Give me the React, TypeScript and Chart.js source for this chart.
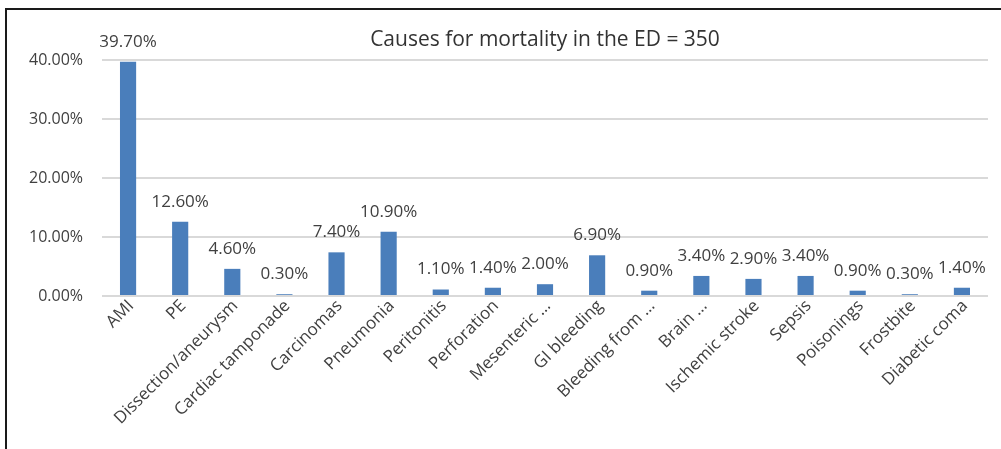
import React, { useEffect, useRef } from "react";
import { Chart, registerables } from "chart.js";

Chart.register(...registerables);

const categories = [
  "AMI",
  "PE",
  "Dissection/aneurysm",
  "Cardiac tamponade",
  "Carcinomas",
  "Pneumonia",
  "Peritonitis",
  "Perforation",
  "Mesenteric …",
  "GI bleeding",
  "Bleeding from …",
  "Brain …",
  "Ischemic stroke",
  "Sepsis",
  "Poisonings",
  "Frostbite",
  "Diabetic coma",
];

const mortalityPct = [39.7, 12.6, 4.6, 0.3, 7.4, 10.9, 1.1, 1.4, 2.0, 6.9, 0.9, 3.4, 2.9, 3.4, 0.9, 0.3, 1.4];

const yTicks = [0, 10, 20, 30, 40];

const titleText = "Causes for mortality in the ED = 350";

const FONT = "'Open Sans', 'Noto Sans', sans-serif";

export default function App() {
  const ref = useRef<HTMLCanvasElement | null>(null);

  useEffect(() => {
    document.body.style.margin = "0";
    const canvas = ref.current;
    if (!canvas) return;

    const overlay = {
      id: "overlay",
      beforeDraw(chart: any) {
        const ctx = chart.ctx;
        ctx.save();
        ctx.fillStyle = "#ffffff";
        ctx.fillRect(0, 0, chart.width, chart.height);
        ctx.strokeStyle = "#1a1a1a";
        ctx.lineWidth = 2;
        ctx.beginPath();
        ctx.moveTo(6, chart.height);
        ctx.lineTo(6, 9);
        ctx.lineTo(chart.width, 9);
        ctx.stroke();
        ctx.restore();
      },
      afterDraw(chart: any) {
        const ctx = chart.ctx;
        const area = chart.chartArea;
        ctx.save();
        ctx.fillStyle = "#333333";
        ctx.font = `21px ${FONT}`;
        ctx.textAlign = "center";
        ctx.textBaseline = "middle";
        ctx.fillText(titleText, (area.left + area.right) / 2, 40);

        ctx.font = `17px ${FONT}`;
        ctx.fillStyle = "#404040";
        const meta = chart.getDatasetMeta(0);
        meta.data.forEach((bar: any, i: number) => {
          const v = mortalityPct[i];
          ctx.fillText(v.toFixed(2) + "%", bar.x, bar.y - 20);
        });
        ctx.restore();
      },
    };

    const chart = new Chart(canvas, {
      type: "bar",
      data: {
        labels: categories,
        datasets: [
          {
            data: mortalityPct,
            backgroundColor: "#4a7ebb",
            borderWidth: 0,
            barPercentage: 0.31,
            categoryPercentage: 1,
          },
        ],
      },
      options: {
        responsive: false,
        animation: false,
        layout: { padding: { left: 0, right: 13, top: 60, bottom: 0 } },
        plugins: {
          legend: { display: false },
          title: { display: false },
          tooltip: { enabled: false },
        },
        scales: {
          x: {
            grid: { display: false },
            border: { display: false },
            ticks: {
              autoSkip: false,
              maxRotation: 45,
              minRotation: 45,
              color: "#404040",
              font: { family: FONT, size: 17 },
              padding: -8,
              labelOffset: 3,
            },
            afterFit(scale: any) {
              scale.height = 153;
            },
          },
          y: {
            min: 0,
            max: 40,
            afterBuildTicks(scale: any) {
              scale.ticks = yTicks.map((v) => ({ value: v }));
            },
            grid: { color: "#d9d9d9", lineWidth: 2, drawTicks: false },
            border: { display: false },
            ticks: {
              color: "#404040",
              font: { family: FONT, size: 16 },
              padding: 19,
              callback: (v: any) => Number(v).toFixed(2) + "%",
            },
            afterFit(scale: any) {
              scale.width = 102;
            },
          },
        },
      },
      plugins: [overlay],
    });

    return () => chart.destroy();
  }, []);

  return (
    <div style={{ width: 1001, height: 449 }}>
      <canvas ref={ref} width={1001} height={449} style={{ display: "block" }} />
    </div>
  );
}
